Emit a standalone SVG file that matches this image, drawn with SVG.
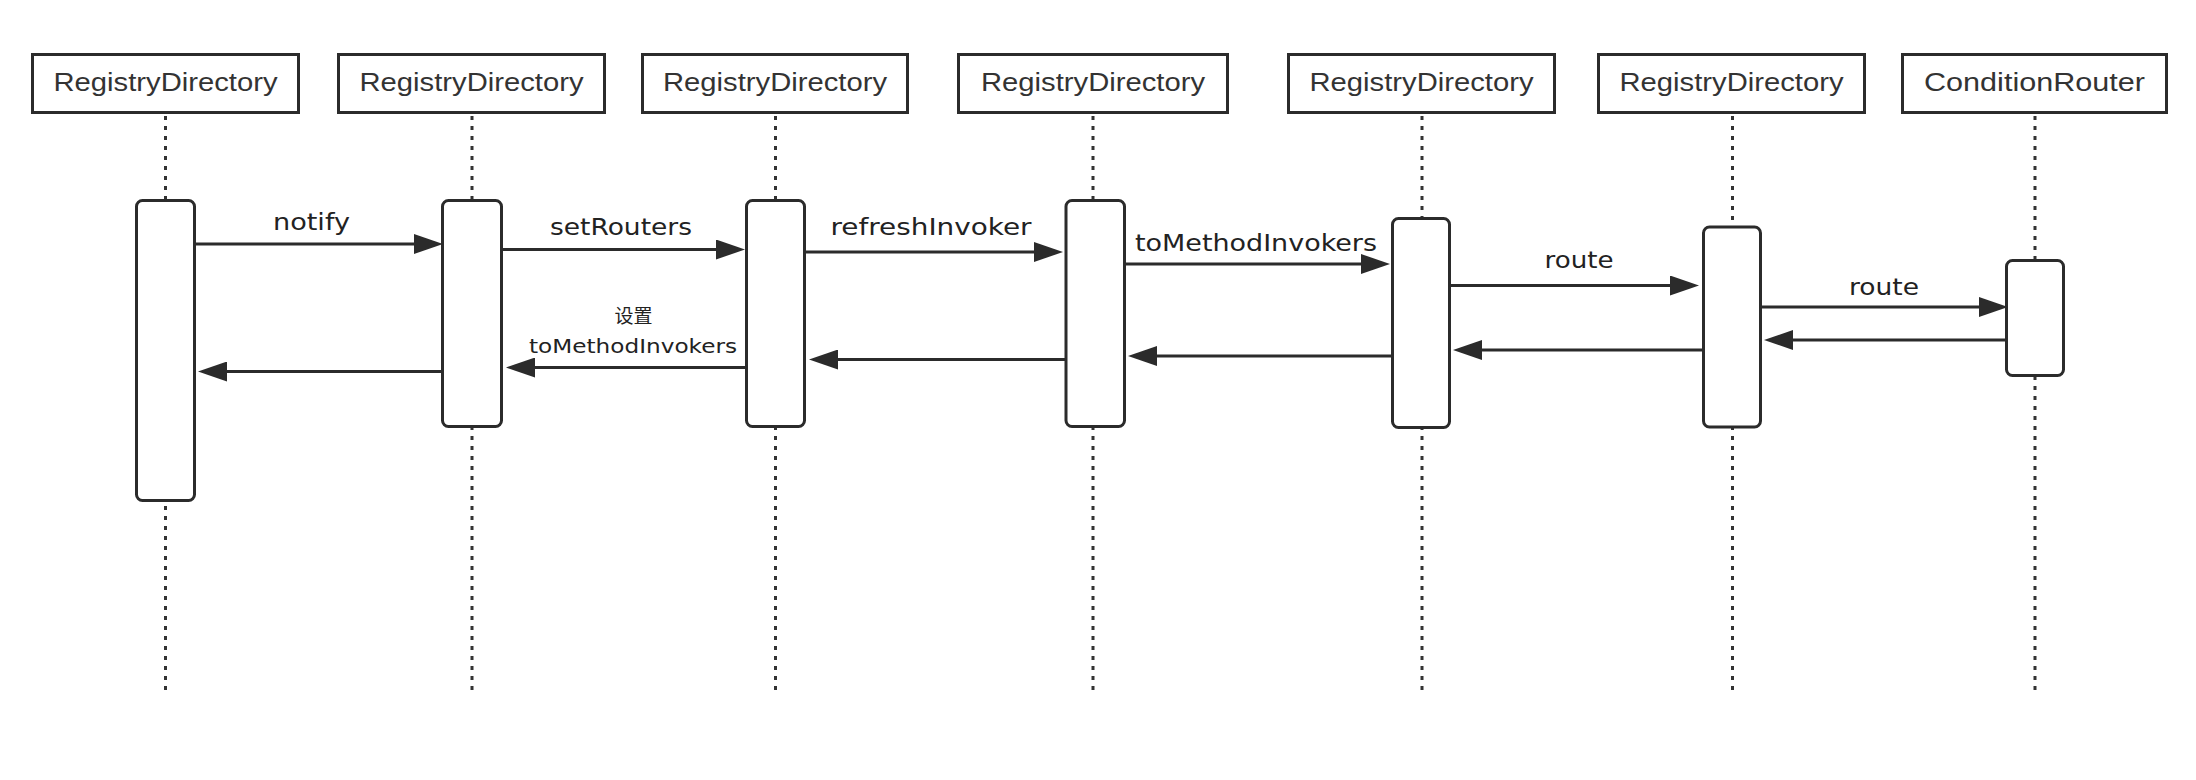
<svg xmlns="http://www.w3.org/2000/svg" width="2196" height="780" viewBox="0 0 2196 780">
<style>
.hdr{fill:#fff;stroke:#2b2b2b;stroke-width:3}
.hdrt{font-family:"Liberation Sans",Arial,sans-serif;font-size:26px;fill:#333;text-anchor:middle}
.life{stroke:#333;stroke-width:3;stroke-dasharray:4 6;fill:none}
.act{fill:#fff;stroke:#2b2b2b;stroke-width:3}
.msg{stroke:#2b2b2b;stroke-width:3;fill:none;marker-end:url(#ah)}
.lbl{font-family:"DejaVu Sans","Liberation Sans",sans-serif;font-size:23px;fill:#222;text-anchor:middle}
.lbls{font-family:"DejaVu Sans","Liberation Sans","Noto Sans CJK SC",sans-serif;font-size:19px;fill:#222;text-anchor:middle}
</style>
<defs>
<marker id="ah" markerUnits="userSpaceOnUse" viewBox="0 0 29 20" refX="19" refY="10" markerWidth="29" markerHeight="20" orient="auto">
<path d="M0,0 L29,10 L0,20 Z" fill="#2b2b2b"/>
</marker>
</defs>
<rect width="2196" height="780" fill="#fff"/>

<g id="lifelines">
<line class="life" x1="165.5" y1="116" x2="165.5" y2="696"/>
<line class="life" x1="472" y1="116" x2="472" y2="696"/>
<line class="life" x1="775.5" y1="116" x2="775.5" y2="696"/>
<line class="life" x1="1093" y1="116" x2="1093" y2="696"/>
<line class="life" x1="1422" y1="116" x2="1422" y2="696"/>
<line class="life" x1="1732.5" y1="116" x2="1732.5" y2="696"/>
<line class="life" x1="2035" y1="116" x2="2035" y2="696"/>
</g>

<g id="node1">
<rect class="hdr" x="32.5" y="54.5" width="266" height="58"/>
<text class="hdrt" x="165.5" y="91" textLength="224" lengthAdjust="spacingAndGlyphs">RegistryDirectory</text>
<rect class="act" x="136.5" y="200.5" width="58" height="300" rx="6"/>
</g>
<g id="node2">
<rect class="hdr" x="338.5" y="54.5" width="266" height="58"/>
<text class="hdrt" x="471.5" y="91" textLength="224" lengthAdjust="spacingAndGlyphs">RegistryDirectory</text>
<rect class="act" x="442.5" y="200.5" width="59" height="226" rx="6"/>
</g>
<g id="node3">
<rect class="hdr" x="642.5" y="54.5" width="265" height="58"/>
<text class="hdrt" x="775" y="91" textLength="224" lengthAdjust="spacingAndGlyphs">RegistryDirectory</text>
<rect class="act" x="746.5" y="200.5" width="58" height="226" rx="6"/>
</g>
<g id="node4">
<rect class="hdr" x="958.5" y="54.5" width="269" height="58"/>
<text class="hdrt" x="1093" y="91" textLength="224" lengthAdjust="spacingAndGlyphs">RegistryDirectory</text>
<rect class="act" x="1066" y="200.5" width="58.5" height="226" rx="6"/>
</g>
<g id="node5">
<rect class="hdr" x="1288.5" y="54.5" width="266" height="58"/>
<text class="hdrt" x="1421.5" y="91" textLength="224" lengthAdjust="spacingAndGlyphs">RegistryDirectory</text>
<rect class="act" x="1392.5" y="218.5" width="57" height="209" rx="6"/>
</g>
<g id="node6">
<rect class="hdr" x="1598.5" y="54.5" width="266" height="58"/>
<text class="hdrt" x="1731.5" y="91" textLength="224" lengthAdjust="spacingAndGlyphs">RegistryDirectory</text>
<rect class="act" x="1703.5" y="227" width="57" height="200" rx="6"/>
</g>
<g id="node7">
<rect class="hdr" x="1902.5" y="54.5" width="264" height="58"/>
<text class="hdrt" x="2034.5" y="91" textLength="221" lengthAdjust="spacingAndGlyphs">ConditionRouter</text>
<rect class="act" x="2006.5" y="260.5" width="57" height="115" rx="6"/>
</g>

<g id="connectors">
<line class="msg" x1="196" y1="244" x2="433" y2="244"/>
<line class="msg" x1="503" y1="249.5" x2="735" y2="249.5"/>
<line class="msg" x1="806" y1="252" x2="1053" y2="252"/>
<line class="msg" x1="1126" y1="264" x2="1380" y2="264"/>
<line class="msg" x1="1451" y1="285.5" x2="1689" y2="285.5"/>
<line class="msg" x1="1762" y1="307" x2="1998" y2="307"/>
<line class="msg" x1="2005" y1="340" x2="1774" y2="340"/>
<line class="msg" x1="1702" y1="350" x2="1463" y2="350"/>
<line class="msg" x1="1391" y1="356" x2="1138" y2="356"/>
<line class="msg" x1="1065" y1="359.5" x2="819" y2="359.5"/>
<line class="msg" x1="745" y1="367.5" x2="516" y2="367.5"/>
<line class="msg" x1="441" y1="371.5" x2="208" y2="371.5"/>
</g>

<g id="labels">
<text class="lbl" x="311.5" y="230" textLength="77" lengthAdjust="spacingAndGlyphs">notify</text>
<text class="lbl" x="621" y="235" textLength="142" lengthAdjust="spacingAndGlyphs">setRouters</text>
<text class="lbl" x="931" y="235" textLength="201" lengthAdjust="spacingAndGlyphs">refreshInvoker</text>
<text class="lbl" x="1256" y="250.5" textLength="242" lengthAdjust="spacingAndGlyphs">toMethodInvokers</text>
<text class="lbl" x="1579" y="268" textLength="69" lengthAdjust="spacingAndGlyphs">route</text>
<text class="lbl" x="1884" y="295" textLength="70" lengthAdjust="spacingAndGlyphs">route</text>
<text class="lbls" x="633.5" y="323">设置</text>
<text class="lbls" x="633" y="353" textLength="208" lengthAdjust="spacingAndGlyphs">toMethodInvokers</text>
</g>
</svg>
